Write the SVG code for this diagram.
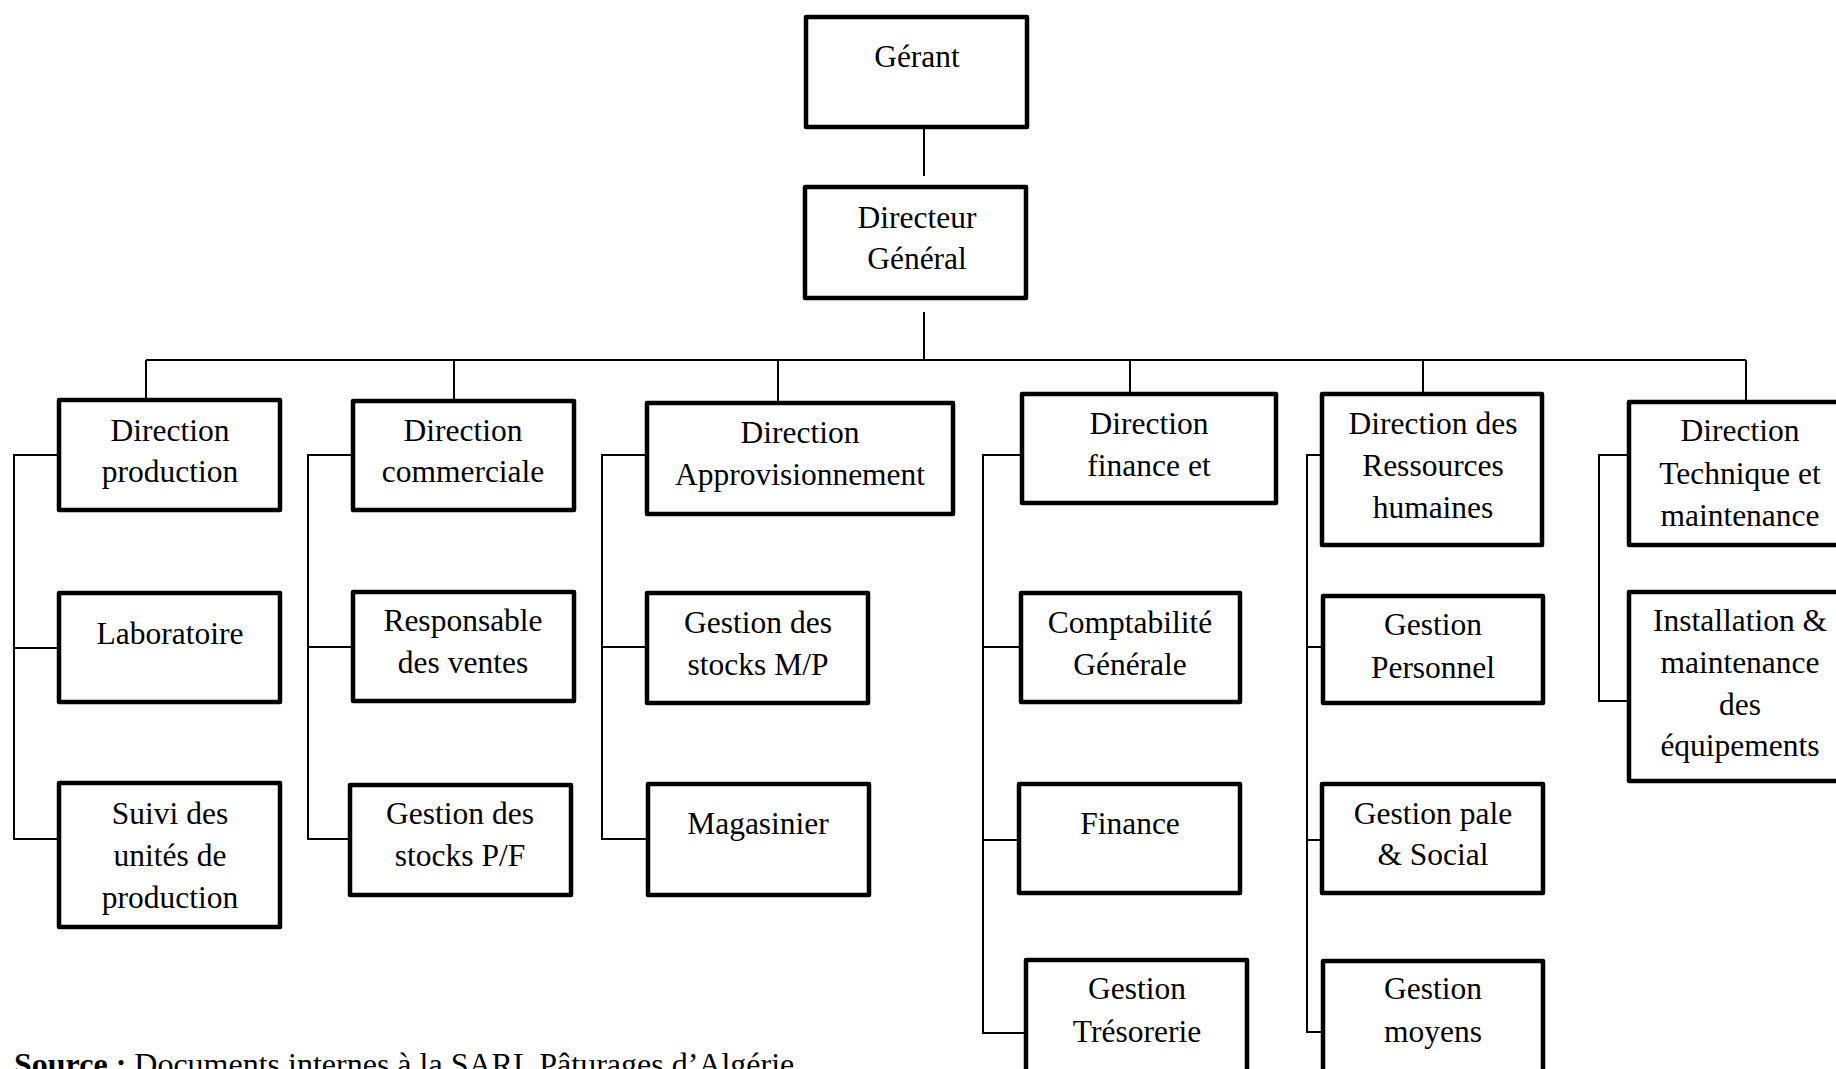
<svg xmlns="http://www.w3.org/2000/svg" width="1836" height="1069" viewBox="0 0 1836 1069">
<style>
.box{fill:#fff;stroke:#000;stroke-width:4.5;stroke-linejoin:round}
.t{font-family:"Liberation Serif","Times New Roman",serif;font-size:31.5px;fill:#000;text-anchor:middle}
.c{fill:none;stroke:#000;stroke-width:2}
.src{font-family:"Liberation Serif","Times New Roman",serif;font-size:32px;fill:#000}
</style>
<rect width="1836" height="1069" fill="#fff"/>
<g id="connectors">
<path class="c" d="M924 129V176M924 312V360M146 360H1746M146 360V398M454 360V399M778 360V401M1130 360V392M1423 360V392M1746 360V400"/>
<path class="c" d="M57 455H14V839H57M14 648H57"/>
<path class="c" d="M351 455H308V839H348M308 647H351"/>
<path class="c" d="M645 455H602V839H646M602 647H645"/>
<path class="c" d="M1020 455H983V1033H1024M983 647H1019M983 840H1017"/>
<path class="c" d="M1320 455H1307V1032H1321M1307 647H1321M1307 840H1320"/>
<path class="c" d="M1627 455H1599V701H1627"/>
</g>
<g id="gerant"><rect class="box" x="806" y="17" width="221" height="110"/><text class="t" x="917" y="67">Gérant</text></g>
<g id="dg"><rect class="box" x="805" y="187" width="221" height="111"/><text class="t" x="917" y="228">Directeur</text><text class="t" x="917" y="269">Général</text></g>
<g id="dir-production"><rect class="box" x="59" y="400" width="221" height="110"/><text class="t" x="170" y="441">Direction</text><text class="t" x="170" y="482">production</text></g>
<g id="laboratoire"><rect class="box" x="59" y="593" width="221" height="109"/><text class="t" x="170" y="644">Laboratoire</text></g>
<g id="suivi"><rect class="box" x="59" y="783" width="221" height="144"/><text class="t" x="170" y="824">Suivi des</text><text class="t" x="170" y="866">unités de</text><text class="t" x="170" y="908">production</text></g>
<g id="dir-commerciale"><rect class="box" x="353" y="401" width="221" height="109"/><text class="t" x="463" y="441">Direction</text><text class="t" x="463" y="482">commerciale</text></g>
<g id="responsable"><rect class="box" x="353" y="592" width="221" height="109"/><text class="t" x="463" y="631">Responsable</text><text class="t" x="463" y="673">des ventes</text></g>
<g id="stocks-pf"><rect class="box" x="350" y="785" width="221" height="110"/><text class="t" x="460" y="824">Gestion des</text><text class="t" x="460" y="866">stocks P/F</text></g>
<g id="dir-appro"><rect class="box" x="647" y="403" width="306" height="111"/><text class="t" x="800" y="443">Direction</text><text class="t" x="800" y="485">Approvisionnement</text></g>
<g id="stocks-mp"><rect class="box" x="647" y="593" width="221" height="110"/><text class="t" x="758" y="633">Gestion des</text><text class="t" x="758" y="675">stocks M/P</text></g>
<g id="magasinier"><rect class="box" x="648" y="784" width="221" height="111"/><text class="t" x="758" y="834">Magasinier</text></g>
<g id="dir-finance"><rect class="box" x="1022" y="394" width="254" height="109"/><text class="t" x="1149" y="434">Direction</text><text class="t" x="1149" y="476">finance et</text></g>
<g id="comptabilite"><rect class="box" x="1021" y="593" width="219" height="109"/><text class="t" x="1130" y="633">Comptabilité</text><text class="t" x="1130" y="675">Générale</text></g>
<g id="finance"><rect class="box" x="1019" y="784" width="221" height="109"/><text class="t" x="1130" y="834">Finance</text></g>
<g id="tresorerie"><rect class="box" x="1026" y="960" width="221" height="130"/><text class="t" x="1137" y="999">Gestion</text><text class="t" x="1137" y="1042">Trésorerie</text></g>
<g id="dir-rh"><rect class="box" x="1322" y="394" width="220" height="151"/><text class="t" x="1433" y="434">Direction des</text><text class="t" x="1433" y="476">Ressources</text><text class="t" x="1433" y="518">humaines</text></g>
<g id="personnel"><rect class="box" x="1323" y="596" width="220" height="107"/><text class="t" x="1433" y="635">Gestion</text><text class="t" x="1433" y="678">Personnel</text></g>
<g id="pale-social"><rect class="box" x="1322" y="784" width="221" height="109"/><text class="t" x="1433" y="824">Gestion pale</text><text class="t" x="1433" y="865">&amp; Social</text></g>
<g id="moyens"><rect class="box" x="1323" y="961" width="220" height="130"/><text class="t" x="1433" y="999">Gestion</text><text class="t" x="1433" y="1042">moyens</text></g>
<g id="dir-technique"><rect class="box" x="1629" y="402" width="222" height="143"/><text class="t" x="1740" y="441">Direction</text><text class="t" x="1740" y="484">Technique et</text><text class="t" x="1740" y="526">maintenance</text></g>
<g id="installation"><rect class="box" x="1629" y="592" width="222" height="189"/><text class="t" x="1740" y="631">Installation &amp;</text><text class="t" x="1740" y="673">maintenance</text><text class="t" x="1740" y="715">des</text><text class="t" x="1740" y="756">équipements</text></g>
<text class="src" x="14" y="1075"><tspan font-weight="bold">Source :</tspan> Documents internes à la SARL Pâturages d’Algérie</text>
</svg>
